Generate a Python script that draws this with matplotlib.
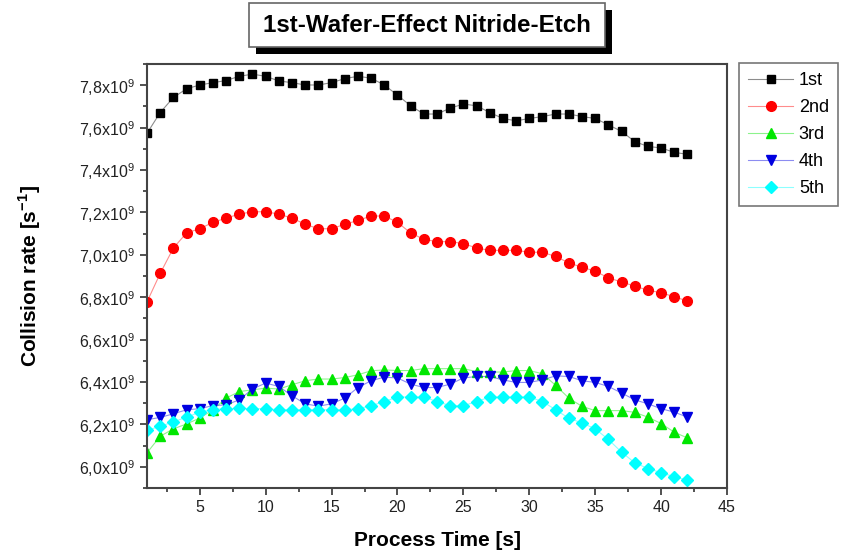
import matplotlib
matplotlib.use('Agg')
import matplotlib.pyplot as plt
from matplotlib.colors import to_rgba
from matplotlib.patches import Rectangle
from matplotlib.ticker import MultipleLocator, FuncFormatter

plt.rcParams['font.family'] = ['Liberation Sans', 'DejaVu Sans']
plt.rcParams['mathtext.fontset'] = 'custom'
plt.rcParams['mathtext.rm'] = 'Liberation Sans'
plt.rcParams['mathtext.bf'] = 'Liberation Sans:bold'

# process time [s]
time_s = list(range(1, 43))

# collision rate, units of 1e9 1/s
wafer_1st = [7.573, 7.671, 7.742, 7.783, 7.801, 7.812, 7.822, 7.842, 7.852, 7.842,
             7.820, 7.812, 7.801, 7.801, 7.812, 7.831, 7.842, 7.833, 7.801, 7.753,
             7.703, 7.664, 7.664, 7.692, 7.711, 7.703, 7.671, 7.643, 7.632, 7.643,
             7.652, 7.664, 7.664, 7.652, 7.643, 7.613, 7.582, 7.534, 7.511, 7.504,
             7.483, 7.474]
wafer_2nd = [6.778, 6.912, 7.032, 7.103, 7.123, 7.153, 7.173, 7.192, 7.203, 7.203,
             7.192, 7.173, 7.144, 7.123, 7.123, 7.144, 7.162, 7.183, 7.183, 7.153,
             7.103, 7.073, 7.062, 7.062, 7.053, 7.032, 7.021, 7.021, 7.021, 7.012,
             7.012, 6.992, 6.962, 6.941, 6.923, 6.891, 6.872, 6.852, 6.833, 6.821,
             6.802, 6.782]
wafer_3rd = [6.066, 6.144, 6.179, 6.202, 6.230, 6.269, 6.324, 6.355, 6.363, 6.371,
             6.367, 6.387, 6.406, 6.414, 6.414, 6.421, 6.434, 6.453, 6.457, 6.454,
             6.454, 6.463, 6.463, 6.463, 6.463, 6.449, 6.447, 6.447, 6.454, 6.454,
             6.439, 6.384, 6.324, 6.285, 6.265, 6.265, 6.265, 6.257, 6.234, 6.204,
             6.163, 6.136]
wafer_4th = [6.222, 6.233, 6.250, 6.269, 6.274, 6.289, 6.292, 6.316, 6.367, 6.395,
             6.379, 6.335, 6.297, 6.286, 6.297, 6.324, 6.374, 6.406, 6.423, 6.419,
             6.390, 6.374, 6.374, 6.390, 6.419, 6.426, 6.426, 6.410, 6.398, 6.398,
             6.410, 6.429, 6.426, 6.406, 6.398, 6.379, 6.348, 6.316, 6.297, 6.274,
             6.258, 6.234]
wafer_5th = [6.172, 6.191, 6.212, 6.234, 6.258, 6.270, 6.274, 6.276, 6.274, 6.274,
             6.269, 6.269, 6.269, 6.269, 6.269, 6.269, 6.274, 6.288, 6.308, 6.329,
             6.329, 6.329, 6.308, 6.288, 6.288, 6.308, 6.329, 6.329, 6.329, 6.329,
             6.308, 6.269, 6.229, 6.207, 6.179, 6.129, 6.069, 6.019, 5.992, 5.972,
             5.953, 5.937]

labels = ['1st', '2nd', '3rd', '4th', '5th']
series = [wafer_1st, wafer_2nd, wafer_3rd, wafer_4th, wafer_5th]
colors = ['black', '#ff0000', '#00e600', '#0000e0', '#00ffff']
markers = ['s', 'o', '^', 'v', 'D']
sizes = [6, 7, 7.5, 7.5, 6]

fig = plt.figure(figsize=(8.41, 5.55), dpi=100)
ax = fig.add_axes([0.1748, 0.1207, 0.6897, 0.764])

for vals, lab, col, mk, ms in zip(series, labels, colors, markers, sizes):
    # faint connecting line, solid markers
    ax.plot(time_s, [v * 1e9 for v in vals], color=to_rgba(col, 0.45), lw=0.8,
            marker=mk, ms=ms, mfc=col, mec=col, label=lab)

ax.set_xlim(1, 45)
ax.set_ylim(5.9e9, 7.9e9)
ax.xaxis.set_major_locator(MultipleLocator(5))
ax.xaxis.set_minor_locator(MultipleLocator(2.5))
ax.yaxis.set_major_locator(MultipleLocator(0.2e9))
ax.yaxis.set_minor_locator(MultipleLocator(0.1e9))
ax.yaxis.set_major_formatter(FuncFormatter(
    lambda v, p: (r'%.1f' % (v / 1e9)).replace('.', ',') + r'x10$^{9}$'))

ax.tick_params(which='both', direction='out', colors='#333333', width=1.2,
               labelsize=11.5, labelcolor='#222222')
ax.tick_params(which='major', length=5)
ax.tick_params(which='minor', length=3)
for sp in ax.spines.values():
    sp.set_linewidth(1.5)
    sp.set_color('#444444')

ax.set_xlabel('Process Time [s]', fontsize=15, fontweight='bold', labelpad=12)
ax.set_ylabel(r'Collision rate [s$^{\mathbf{-1}}$]', fontsize=15,
              fontweight='bold', labelpad=26)

leg = fig.legend(loc='upper left', bbox_to_anchor=(0.879, 0.886),
                 fontsize=13, handlelength=2.5, fancybox=False,
                 edgecolor='#555555', borderpad=0.5, labelspacing=0.55,
                 handletextpad=0.3, borderaxespad=0)
leg.get_frame().set_linewidth(1.2)

# title box with drop shadow
fig.patches.append(Rectangle((256 / 841, 1 - 54 / 555), 356 / 841, 44 / 555,
                             transform=fig.transFigure, facecolor='black',
                             edgecolor='none', zorder=1))
fig.patches.append(Rectangle((249 / 841, 1 - 47 / 555), 356 / 841, 44 / 555,
                             transform=fig.transFigure, facecolor='white',
                             edgecolor='#666666', lw=1.2, zorder=2))
fig.text(427 / 841, 1 - 25 / 555, '1st-Wafer-Effect Nitride-Etch', fontsize=17.4,
         fontweight='bold', ha='center', va='center', zorder=3)

fig.savefig('out.png', dpi=100)
